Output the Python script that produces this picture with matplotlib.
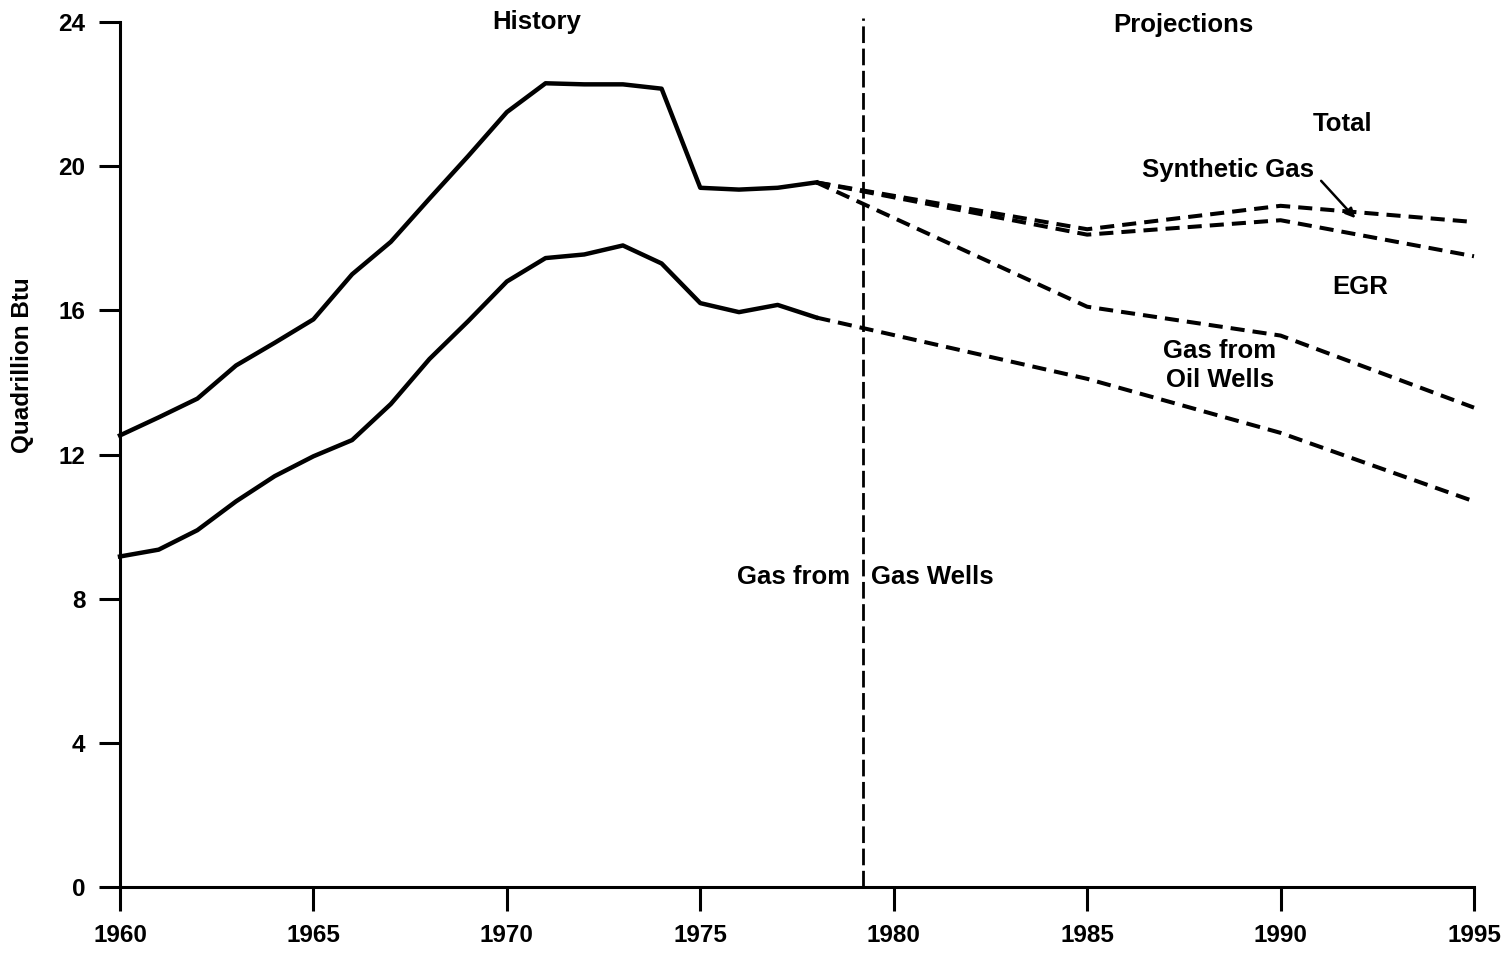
import numpy as np
import matplotlib.pyplot as plt

plt.rcParams['font.family'] = ['Liberation Sans', 'DejaVu Sans']
plt.rcParams['font.weight'] = 'bold'

# history, 1960-1978
hist_years = np.arange(1960, 1979)
hist_total = [12.53, 13.03, 13.55, 14.47, 15.1, 15.75, 17.0, 17.9, 19.1, 20.28,
              21.5, 22.3, 22.27, 22.27, 22.15, 19.4, 19.35, 19.4, 19.55]
hist_gas_wells = [9.17, 9.36, 9.9, 10.7, 11.4, 11.95, 12.4, 13.4, 14.65, 15.7,
                  16.8, 17.45, 17.55, 17.8, 17.3, 16.2, 15.95, 16.15, 15.8]

# projections
proj_years = [1978, 1985, 1990, 1995]
proj_total = [19.55, 18.25, 18.9, 18.45]
proj_synthetic = [19.55, 18.1, 18.5, 17.5]
proj_egr = [19.55, 16.1, 15.3, 13.3]
proj_gas_wells = [15.8, 14.1, 12.6, 10.7]

split_year = 1979.2

fig = plt.figure(figsize=(15.11, 9.56), dpi=100)
ax = fig.add_axes([120/1511, 69/956, 1354/1511, 865/956])

ax.plot(hist_years, hist_total, color='black', lw=3.2, clip_on=False)
ax.plot(hist_years, hist_gas_wells, color='black', lw=3.2, clip_on=False)

dash = (0, (3.5, 2))
for series in [proj_total, proj_synthetic, proj_egr, proj_gas_wells]:
    ax.plot(proj_years, series, color='black', lw=2.9, linestyle=dash, clip_on=False)

# history / projections divider
ax.plot([split_year, split_year], [0, 24.1], color='black', lw=2, linestyle=(0, (6, 2)), clip_on=False)

ax.set_xlim(1960, 1995)
ax.set_ylim(0, 24)
ax.set_xticks([1960, 1965, 1970, 1975, 1980, 1985, 1990, 1995])
ax.set_yticks([0, 4, 8, 12, 16, 20, 24])
ax.tick_params(axis='x', length=17, width=2.2, pad=10, labelsize=17.5)
ax.tick_params(axis='y', length=15, width=2.2, pad=10, labelsize=17.5)
for lab in ax.get_xticklabels() + ax.get_yticklabels():
    lab.set_fontweight('bold')

ax.spines['top'].set_visible(False)
ax.spines['right'].set_visible(False)
ax.spines['left'].set_linewidth(2.2)
ax.spines['bottom'].set_linewidth(2.2)

fig.text(23/1511, 1 - 365/956, 'Quadrillion Btu', rotation=90, ha='center', va='center',
         fontsize=17.5, fontweight='bold')

kw = dict(fontsize=18.5, fontweight='bold', va='center')
ax.text(1970.78, 24.0, 'History', ha='center', **kw)
ax.text(1987.5, 23.92, 'Projections', ha='center', **kw)
ax.text(1991.6, 21.17, 'Total', ha='center', **kw)
ax.text(1988.64, 19.9, 'Synthetic Gas', ha='center', **kw)
ax.text(1992.05, 16.65, 'EGR', ha='center', **kw)
ax.text(1988.43, 14.46, 'Gas from\nOil Wells', ha='center', linespacing=1.25, **kw)
ax.text(1978.87, 8.6, 'Gas from', ha='right', **kw)
ax.text(1979.4, 8.6, 'Gas Wells', ha='left', **kw)

ax.annotate('', xy=(1991.98, 18.5), xytext=(1991.0, 19.65),
            arrowprops=dict(arrowstyle='-|>', color='black', lw=1.8, mutation_scale=14))

fig.savefig('out.png', dpi=100)
